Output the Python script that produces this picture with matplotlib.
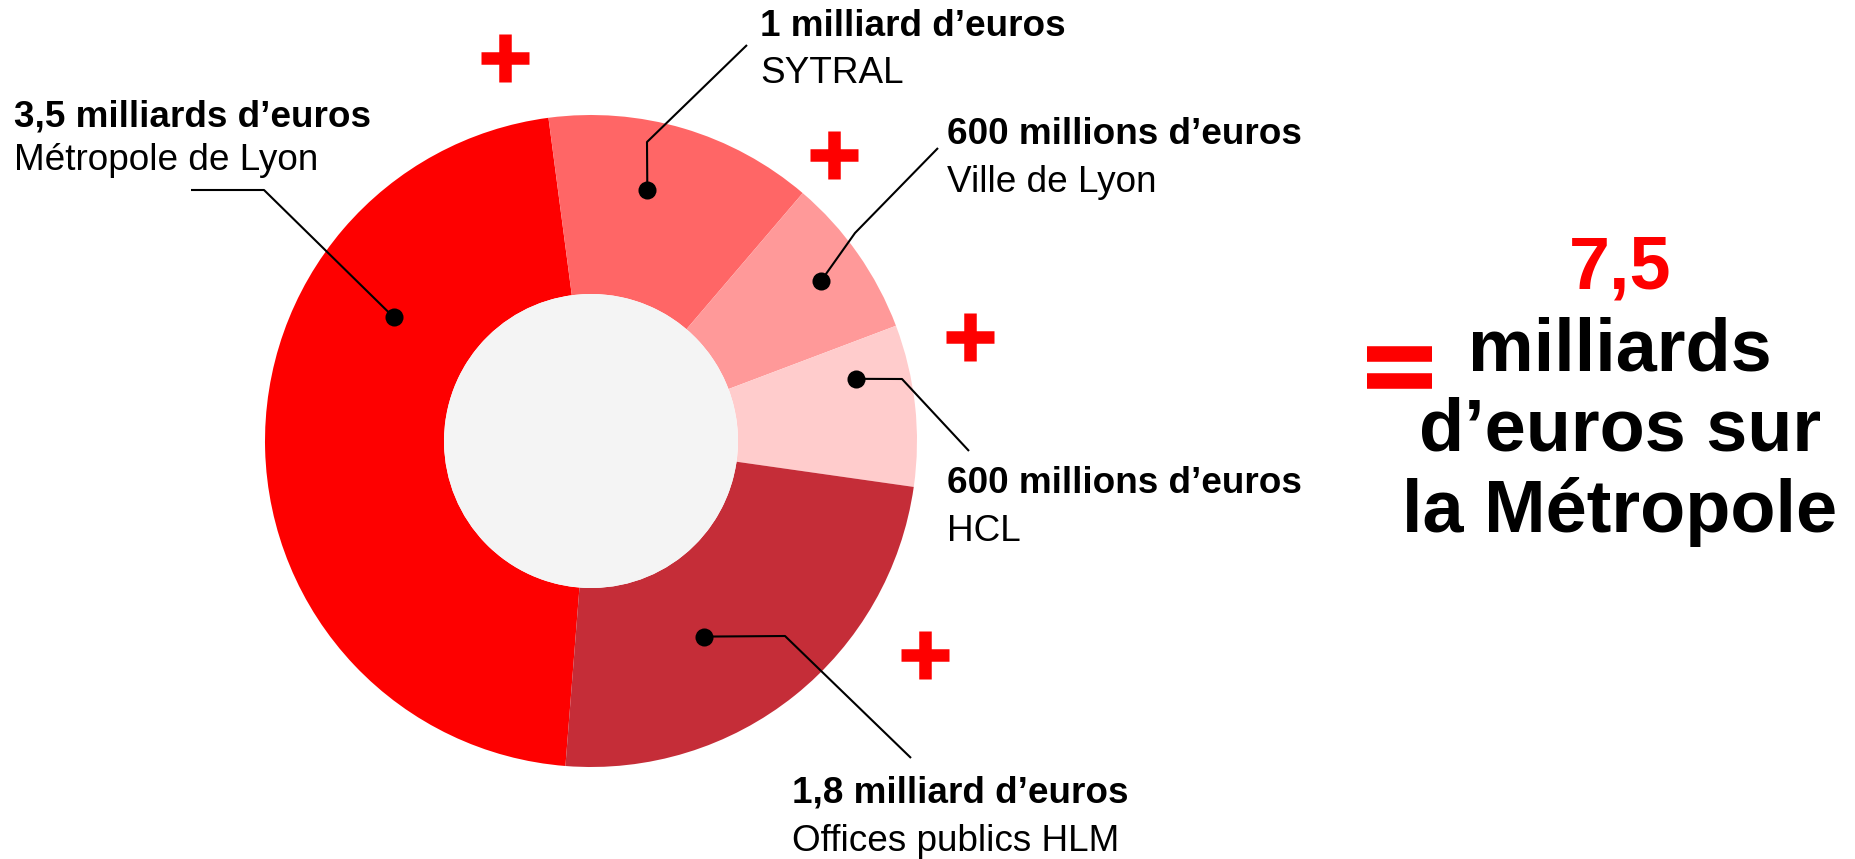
import numpy as np
import matplotlib
matplotlib.use("Agg")
import matplotlib.pyplot as plt
from matplotlib.patches import Circle

# ---- data ----
categories = ["Métropole de Lyon", "SYTRAL", "Ville de Lyon", "HCL", "Offices publics HLM"]
values = [3.5, 1.0, 0.6, 0.6, 1.8]  # milliards d'euros
amount_labels = ["3,5 milliards d’euros", "1 milliard d’euros", "600 millions d’euros",
                 "600 millions d’euros", "1,8 milliard d’euros"]
total_label = "7,5"
total_text = ["milliards", "d’euros sur", "la Métropole"]
colors = ["#fe0000", "#ff6666", "#ff9999", "#ffcccc", "#c52d38"]

# ---- layout (pixel space, y measured from top) ----
W, H = 1856, 859
DPI = 100
def Y(y):
    return H - y

cx, cy = 591, 441
R_out, R_in = 326, 147

fig = plt.figure(figsize=(W / DPI, H / DPI), dpi=DPI)
ax = fig.add_axes([0, 0, 1, 1])

wedges, _ = ax.pie(values, colors=colors, startangle=265.5, counterclock=False,
                   center=(cx, Y(cy)), radius=R_out,
                   wedgeprops=dict(width=R_out - R_in, linewidth=0))
ax.add_patch(Circle((cx, Y(cy)), R_in, facecolor="#f4f4f4", edgecolor="none", zorder=3))
ax.set_xlim(0, W)
ax.set_ylim(0, H)
ax.set_aspect("equal")
ax.axis("off")

# anchor dot: (fraction along wedge, radius)
anchor = [(0.30, 233), (0.58, 257), (0.49, 280), (0.74, 272), (0.40, 226)]
# leader path after the dot (pixels)
leaders = [
    [(264, 190), (191, 190)],
    [(647, 142), (747, 45)],
    [(855, 233), (938, 148)],
    [(902, 379), (969, 451)],
    [(785, 636), (911, 758)],
]
# label position: left x, baseline of bold line, baseline of regular line
label_pos = [(14, 126, 170), (760, 36, 83), (947, 144, 192), (947, 493, 541), (792, 803, 851)]

fs_lab = 26.6
for i, w in enumerate(wedges):
    t1, t2 = w.theta1, w.theta2
    f, r = anchor[i]
    ang = np.deg2rad(t1 + f * (t2 - t1))
    dx, dy = cx + r * np.cos(ang), Y(cy) + r * np.sin(ang)
    xs = [dx] + [p[0] for p in leaders[i]]
    ys = [dy] + [Y(p[1]) for p in leaders[i]]
    ax.plot(xs, ys, color="black", lw=1.5, zorder=5, solid_capstyle="butt")
    ax.plot([dx], [dy], "o", color="black", ms=13, mew=0, zorder=6)
    lx, ly1, ly2 = label_pos[i]
    ax.text(lx, Y(ly1), amount_labels[i], fontsize=fs_lab, fontweight="bold",
            family="Liberation Sans", va="baseline", ha="left", color="black")
    ax.text(lx, Y(ly2), categories[i], fontsize=fs_lab,
            family="Liberation Sans", va="baseline", ha="left", color="black")

# plus signs
plus_pos = [(505, 58), (834, 155), (970, 337), (925, 655)]
half = 24
for (px, py) in plus_pos:
    ax.plot([px - half, px + half], [Y(py), Y(py)], color="#fe0000", lw=9.0,
            solid_capstyle="butt", zorder=4)
    ax.plot([px, px], [Y(py - half), Y(py + half)], color="#fe0000", lw=9.0,
            solid_capstyle="butt", zorder=4)

# equals sign
for yb in (354, 380.5):
    ax.plot([1367, 1432], [Y(yb), Y(yb)], color="#fe0000", lw=11.2,
            solid_capstyle="butt", zorder=4)

# total text
fs_big = 53.2
ax.text(1620, Y(289), total_label, fontsize=fs_big, fontweight="bold",
        family="Liberation Sans", color="#fe0000", ha="center", va="baseline")
for k, yb in enumerate([371, 451, 532]):
    ax.text(1620, Y(yb), total_text[k], fontsize=fs_big, fontweight="bold",
            family="Liberation Sans", color="black", ha="center", va="baseline")

fig.savefig("out.png", dpi=DPI, facecolor="white")
